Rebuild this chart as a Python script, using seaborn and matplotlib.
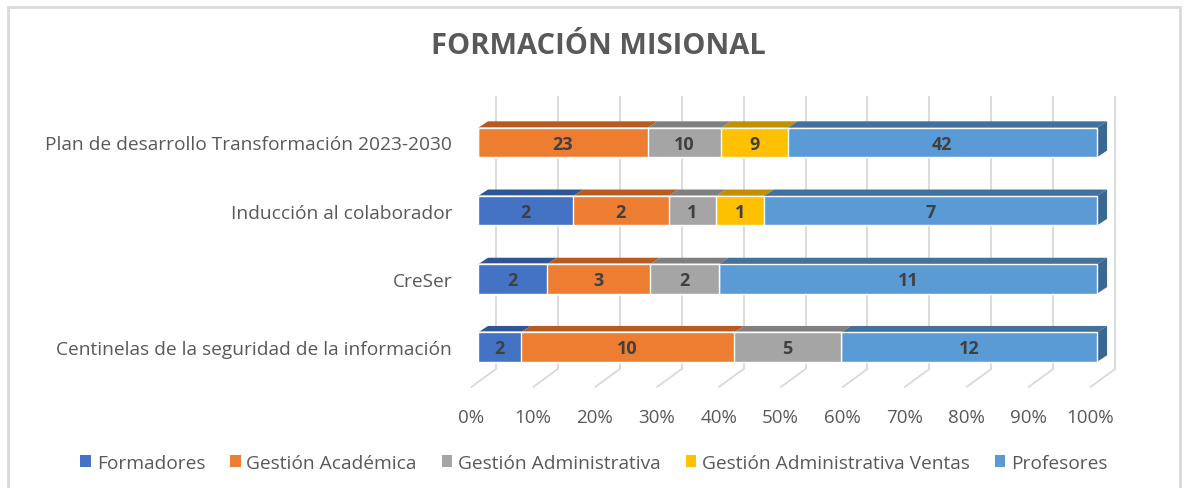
import numpy as np
import pandas as pd
import seaborn as sns
import matplotlib.pyplot as plt
from matplotlib.patches import Polygon, Patch, Rectangle
from matplotlib.transforms import ScaledTranslation

cursos = ["Plan de desarrollo Transformación 2023-2030", "Inducción al colaborador",
          "CreSer", "Centinelas de la seguridad de la información"]
grupos = ["Formadores", "Gestión Académica", "Gestión Administrativa",
          "Gestión Administrativa Ventas", "Profesores"]
formadores = [0, 2, 2, 2]
gestion_academica = [23, 2, 3, 10]
gestion_administrativa = [10, 1, 2, 5]
gestion_ventas = [9, 1, 0, 0]
profesores = [42, 7, 11, 12]
ticks = list(range(0, 101, 10))

colores = ["#4472C4", "#ED7D31", "#A5A5A5", "#FFC000", "#5B9BD5"]
techo = ["#2F5597", "#B95A20", "#7F7F7F", "#C09000", "#41719C"]
lado = "#3A6890"
gris = "#595959"

sns.set_theme(style="white")
plt.rcParams["font.family"] = ["Open Sans", "DejaVu Sans"]

valores = np.array([formadores, gestion_academica, gestion_administrativa,
                    gestion_ventas, profesores], dtype=float)
pct = valores / valores.sum(axis=0) * 100
acum = pct.cumsum(axis=0)
inicio = acum - pct

df = pd.DataFrame({"curso": np.tile(cursos, len(grupos)),
                   "grupo": np.repeat(grupos, len(cursos)),
                   "acum": acum.ravel()})

fig = plt.figure(figsize=(11.88, 4.89), dpi=100)
ax = fig.add_axes([0.392, 0.2065, 0.5524, 0.595])

ancho = 0.43
# draw from the last cumulative layer backwards so each segment shows
for i in reversed(range(len(grupos))):
    sub = df[df["grupo"] == grupos[i]]
    sns.barplot(data=sub, x="acum", y="curso", order=cursos, color=colores[i],
                saturation=1, width=ancho, orient="h", ax=ax, zorder=3)

ax.set_xlim(-2, 104)
ax.set_ylim(3.585, -0.68)

# 3D depth offsets (data units)
dx, dy = 1.6, 0.095
fondo_x, piso_atras, piso_frente = 2.9, 3.32, 3.585
for v in ticks:
    ax.plot([v + fondo_x, v + fondo_x], [-0.68, piso_atras], color="#D9D9D9", lw=1.3, zorder=1)
    ax.plot([v + fondo_x, v - 1.1], [piso_atras, piso_frente], color="#D9D9D9", lw=1.3,
            zorder=1, clip_on=False)

for j in range(len(cursos)):
    yt = j - ancho / 2
    for i in range(len(grupos)):
        if pct[i, j] == 0:
            continue
        x0, x1 = inicio[i, j], acum[i, j]
        ax.add_patch(Polygon([(x0, yt), (x1, yt), (x1 + dx, yt - dy), (x0 + dx, yt - dy)],
                             closed=True, facecolor=techo[i], edgecolor="none", zorder=2.5))
        ax.text((x0 + x1) / 2, j + 0.02, f"{int(valores[i, j])}", ha="center", va="center",
                fontsize=13, fontweight="bold", color="#404040", zorder=5)
    ax.add_patch(Polygon([(100, yt), (100 + dx, yt - dy), (100 + dx, j + ancho / 2 - dy),
                          (100, j + ancho / 2)], closed=True, facecolor=lado,
                         edgecolor="none", zorder=2.5))

sns.despine(ax=ax, left=True, bottom=True)
ax.set_xlabel("")
ax.set_ylabel("")
ax.set_xticks(ticks)
ax.set_xticklabels([f"{v}%" for v in ticks])
ax.tick_params(axis="x", length=0, pad=15, labelsize=13.5, labelcolor=gris)
ax.tick_params(axis="y", length=0, pad=9.8, labelsize=13.8, labelcolor=gris)
for lab in ax.get_xticklabels():
    lab.set_transform(lab.get_transform() + ScaledTranslation(-0.07, 0, fig.dpi_scale_trans))

fig.text(0.504, 0.905, "FORMACIÓN MISIONAL", ha="center", va="center",
         fontsize=21, fontweight="bold", color=gris)

handles = [Patch(facecolor=c, edgecolor="none") for c in colores]
fig.legend(handles, grupos, loc="center", bbox_to_anchor=(0.5, 0.052), ncol=5,
           frameon=False, fontsize=13.8, labelcolor=gris, handlelength=0.55,
           handleheight=0.55, handletextpad=0.3, columnspacing=1.3)

fig.patches.append(Rectangle((8 / 1188, -0.05), 1172 / 1188, 1.05 - 8 / 489,
                             transform=fig.transFigure, fill=False,
                             edgecolor="#D9D9D9", lw=2))

fig.savefig("out.png", dpi=100)
